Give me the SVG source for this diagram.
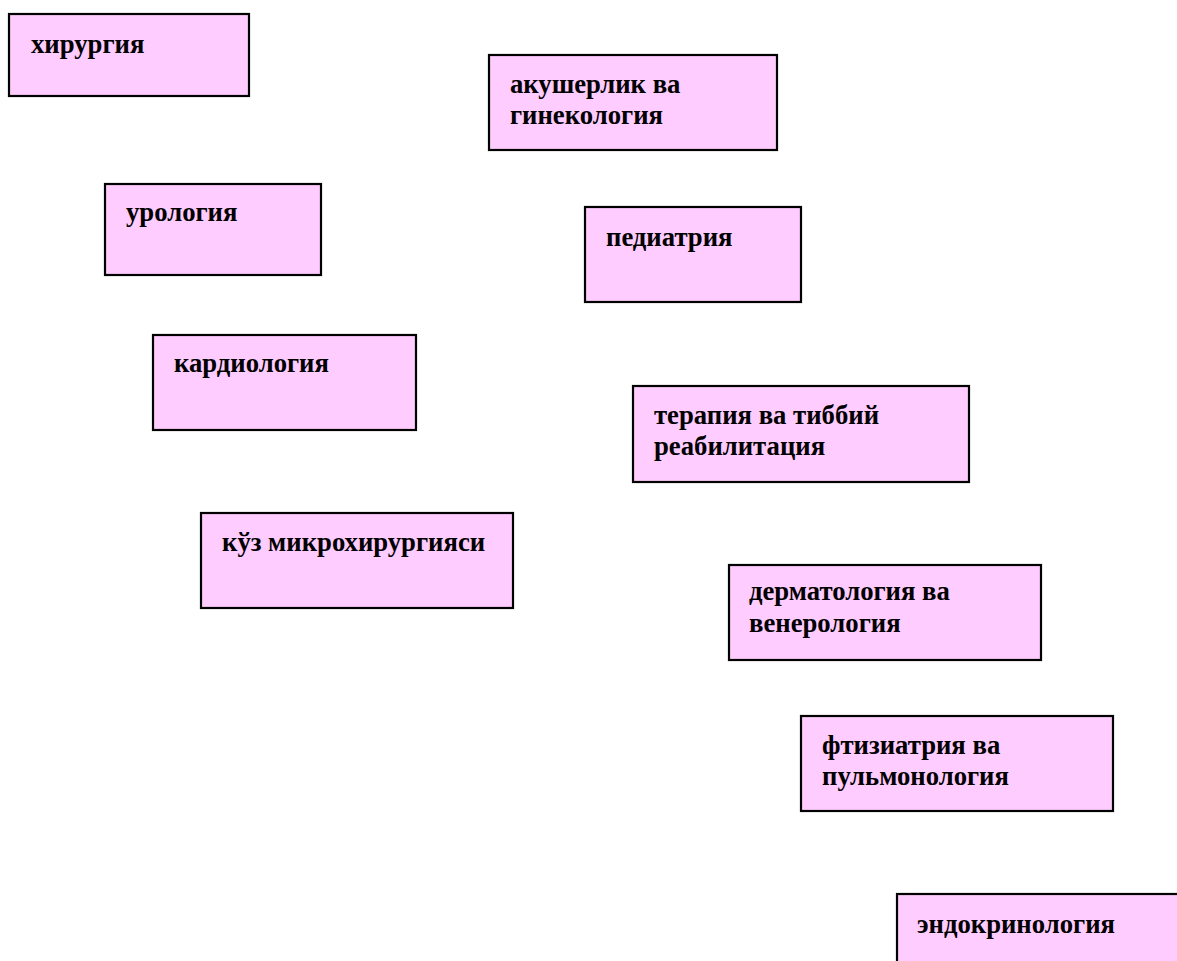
<svg xmlns="http://www.w3.org/2000/svg" width="1177" height="961" viewBox="0 0 1177 961">
  <style>
    .box { fill: #FFCCFF; stroke: #000000; stroke-width: 2.2; }
    .lbl { font-family: "Liberation Serif", "Times New Roman", serif; font-weight: bold; font-size: 26.7px; fill: #000000; }
  </style>
  <rect width="1177" height="961" fill="#FFFFFF"/>

  <g id="surgery">
    <rect class="box" x="9" y="14" width="240" height="82"/>
    <text class="lbl" x="31" y="53">хирургия</text>
  </g>

  <g id="obstetrics">
    <rect class="box" x="489" y="55" width="288" height="95"/>
    <text class="lbl" x="510" y="93">акушерлик ва</text>
    <text class="lbl" x="510" y="124">гинекология</text>
  </g>

  <g id="urology">
    <rect class="box" x="105" y="184" width="216" height="91"/>
    <text class="lbl" x="126" y="221">урология</text>
  </g>

  <g id="pediatrics">
    <rect class="box" x="585" y="207" width="216" height="95"/>
    <text class="lbl" x="606" y="246">педиатрия</text>
  </g>

  <g id="cardiology">
    <rect class="box" x="153" y="335" width="263" height="95"/>
    <text class="lbl" x="174" y="372">кардиология</text>
  </g>

  <g id="therapy">
    <rect class="box" x="633" y="386" width="336" height="96"/>
    <text class="lbl" x="654" y="424">терапия ва тиббий</text>
    <text class="lbl" x="654" y="455">реабилитация</text>
  </g>

  <g id="eye-microsurgery">
    <rect class="box" x="201" y="513" width="312" height="95"/>
    <text class="lbl" x="222" y="551">кўз микрохирургияси</text>
  </g>

  <g id="dermatology">
    <rect class="box" x="729" y="565" width="312" height="95"/>
    <text class="lbl" x="749" y="600">дерматология ва</text>
    <text class="lbl" x="749" y="632">венерология</text>
  </g>

  <g id="phthisiatry">
    <rect class="box" x="801" y="716" width="312" height="95"/>
    <text class="lbl" x="822" y="754">фтизиатрия ва</text>
    <text class="lbl" x="822" y="785">пульмонология</text>
  </g>

  <g id="endocrinology">
    <rect class="box" x="897" y="894" width="320" height="100"/>
    <text class="lbl" x="917" y="933">эндокринология</text>
  </g>

  <g id="connectors"></g>
</svg>
